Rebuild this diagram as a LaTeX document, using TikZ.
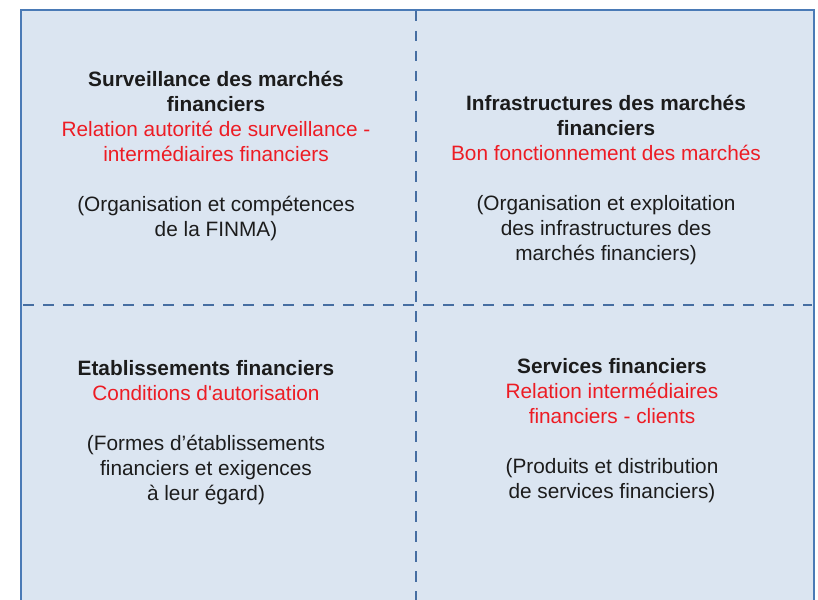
\documentclass[tikz,border=0pt]{standalone}
\usepackage{fontspec}
\setmainfont{Liberation Sans}
\usetikzlibrary{positioning}
\definecolor{framefill}{RGB}{219,229,241}
\definecolor{frameblue}{RGB}{74,122,182}
\definecolor{dashblue}{RGB}{70,110,162}
\definecolor{focusred}{RGB}{237,28,36}
\definecolor{textdark}{RGB}{28,28,28}

\begin{document}
\begin{tikzpicture}[
    x=1pt, y=-1pt,
    quadrant/.style={align=center, text=textdark, inner sep=0pt, font=\fontsize{20.8}{25}\selectfont},
    divider/.style={dashblue, line width=2.6pt, dash pattern=on 10.5pt off 9.5pt}
]
    \useasboundingbox (0,0) rectangle (818,599);
    \clip (0,0) rectangle (818,599);

    % Outer frame
    \draw[frameblue, line width=2.8pt, fill=framefill] (21,10) rectangle (814,640);

    % Dashed dividers
    \draw[divider] (416,11) -- (416,640);
    \draw[divider] (23,305) -- (812,305);

    % Top left
    \node[quadrant] (surv) at (216,156.5) {\textbf{Surveillance des marchés}\\ \textbf{financiers}\\
        \textcolor{focusred}{Relation autorité de surveillance -}\\
        \textcolor{focusred}{intermédiaires financiers}\\[25pt]
        (Organisation et compétences\\ de la FINMA)};

    % Top right
    \node[quadrant] (infra) at (606,180) {\textbf{Infrastructures des marchés}\\ \textbf{financiers}\\
        \textcolor{focusred}{Bon fonctionnement des marchés}\\[25pt]
        (Organisation et exploitation\\ des infrastructures des\\ marchés financiers)};

    % Bottom left
    \node[quadrant] (etab) at (206,433) {\textbf{Etablissements financiers}\\
        \textcolor{focusred}{Conditions d\textquotesingle autorisation}\\[25pt]
        (Formes d’établissements\\ financiers et exigences\\ à leur égard)};

    % Bottom right
    \node[quadrant] (serv) at (612,431) {\textbf{Services financiers}\\
        \textcolor{focusred}{Relation intermédiaires}\\
        \textcolor{focusred}{financiers - clients}\\[25pt]
        (Produits et distribution\\ de services financiers)};
\end{tikzpicture}
\end{document}
